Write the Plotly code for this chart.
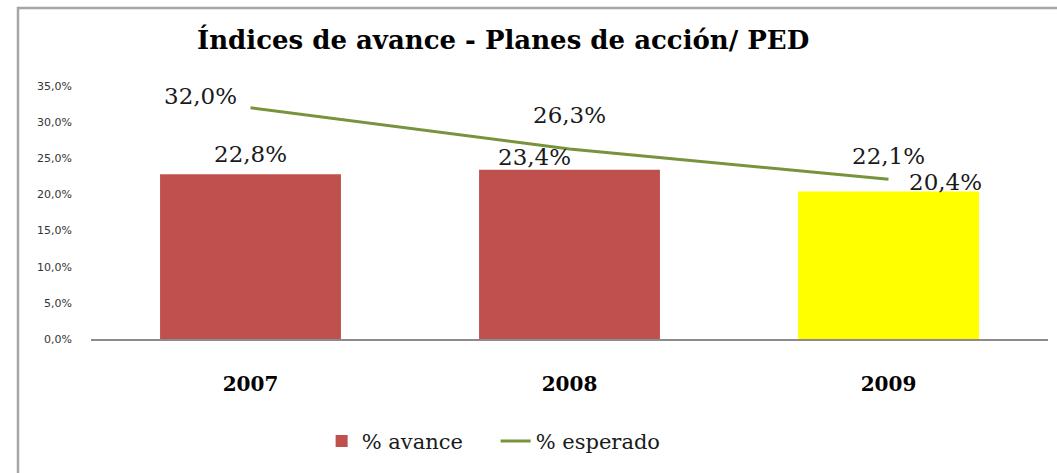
import plotly.graph_objects as go

categories = ["2007", "2008", "2009"]
avance = [22.8, 23.4, 20.4]
esperado = [32.0, 26.3, 22.1]
bar_colors = ["#C0504D", "#C0504D", "#FFFF00"]
y_ticks = [0, 5, 10, 15, 20, 25, 30, 35]

# label offsets (pixels) relative to the mark
bar_lbl_dx = [0, -35, 57]
bar_lbl_dy = [20, 13, 10]
line_lbl_dx = [-50, 0, 0]
line_lbl_dy = [12, 34, 23]


def pct(v):
    return f"{v:.1f}".replace(".", ",") + "%"


W, H = 1057, 473
L, R, T, B = 91, 9, 86, 134

fig = go.Figure()
fig.add_trace(go.Bar(
    x=categories, y=avance, name="% avance",
    marker=dict(color=bar_colors, line=dict(width=0)),
    width=0.567,
))
fig.add_trace(go.Scatter(
    x=categories, y=esperado, name="% esperado", mode="lines",
    line=dict(color="#77933C", width=3),
))

label_font = dict(family="DejaVu Serif", size=23, color="#1a1a1a")
for i, c in enumerate(categories):
    fig.add_annotation(x=i, y=avance[i], text=pct(avance[i]), showarrow=False,
                       xshift=bar_lbl_dx[i], yshift=bar_lbl_dy[i], font=label_font,
                       xanchor="center", yanchor="middle")
    fig.add_annotation(x=i, y=esperado[i], text=pct(esperado[i]), showarrow=False,
                       xshift=line_lbl_dx[i], yshift=line_lbl_dy[i], font=label_font,
                       xanchor="center", yanchor="middle")

# outer frame (top and left edges visible)
fx = (18 - L) / (W - L - R)
fy = (H - B - 8) / (H - T - B)
fig.add_shape(type="path", xref="paper", yref="paper",
              path=f"M {fx} -2 L {fx} {fy} L 2 {fy}",
              line=dict(color="#a6a6a6", width=2.5))

fig.update_layout(
    width=W, height=H,
    margin=dict(l=L, r=R, t=T, b=B, autoexpand=False),
    paper_bgcolor="white", plot_bgcolor="white",
    title=dict(text="<b>Índices de avance - Planes de acción/ PED</b>",
               x=0.476, xanchor="center", xref="container",
               y=1 - 40 / H, yanchor="middle", yref="container",
               font=dict(family="DejaVu Serif", size=26, color="#000000")),
    showlegend=True,
    legend=dict(orientation="h", x=0.241, xanchor="left", y=-0.405, yanchor="middle",
                font=dict(family="DejaVu Serif", size=21, color="#1a1a1a"),
                entrywidth=129, entrywidthmode="pixels",
                bgcolor="rgba(0,0,0,0)", traceorder="normal"),
    bargap=0.433,
)
fig.update_xaxes(
    type="category", automargin=False,
    showline=True, linecolor="#8c8c8c", linewidth=2,
    showgrid=False, ticks="", ticklabelstandoff=26,
    tickfont=dict(family="DejaVu Serif", size=20, color="#000000"),
    tickprefix="<b>", ticksuffix="</b>",
)
fig.update_yaxes(
    range=[0, 35], tickvals=y_ticks, automargin=False,
    ticktext=[pct(v) for v in y_ticks],
    showgrid=False, zeroline=False, showline=False, ticks="",
    ticklabelstandoff=18,
    tickfont=dict(family="DejaVu Sans", size=11, color="#333333"),
    tickprefix="<b>", ticksuffix="</b>",
)

fig.write_html("out.html", config={"displayModeBar": False},
               post_script="document.body.style.margin='0';")
